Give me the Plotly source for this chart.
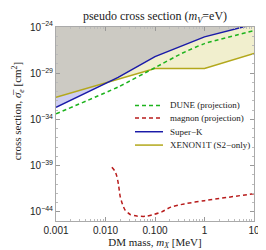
import plotly.graph_objects as go

# ---- data (DM mass in MeV, cross section in cm^2) ----
sk_mass = [0.001, 0.018, 0.1, 1.0, 10.0]
sk_sigma = [2.0e-33, 3.5e-30, 6.3e-28, 8.5e-26, 2.0e-24]

xe_mass = [0.001, 0.1, 1.0, 10.0]
xe_sigma = [2.5e-32, 3.2e-29, 3.2e-29, 1.4e-27]

dune_mass = [0.001, 0.018, 0.1, 0.35, 1.0, 10.0]
dune_sigma = [4.0e-34, 3.2e-31, 4.0e-29, 1.4e-27, 1.6e-26, 4.0e-25]

magnon_mass = [0.01346, 0.0157, 0.0170, 0.01837, 0.01977, 0.02213, 0.02495,
               0.0315, 0.0430, 0.0631, 0.0861, 0.137, 0.209, 0.389, 1.0, 10.0]
magnon_sigma = [6.5e-40, 2.2e-40, 6.6e-41, 7.8e-42, 4.7e-43, 6.0e-44, 1.5e-44,
                5.1e-45, 3.4e-45, 3.2e-45, 4.4e-45, 9.8e-45, 3.2e-44, 7.1e-44,
                1.6e-43, 9.1e-43]

x_ticks = [0.001, 0.01, 0.1, 1, 10]
x_ticktext = ["0.001", "0.010", "0.100", "1", "10"]
y_exps = [-44, -39, -34, -29, -24]

legend_names = ["DUNE (projection)", "magnon (projection)", "Super\u2212K", "XENON1T (S2\u2212only)"]
legend_colors = ["#1db31d", "#b81c1c", "#1a1aa8", "#b3a81c"]
legend_dash = ["dash", "dash", "solid", "solid"]

TOP = 1e-20
fig = go.Figure()

# exclusion fills
fig.add_trace(go.Scatter(x=sk_mass + [sk_mass[-1], sk_mass[0]],
                         y=sk_sigma + [TOP, TOP], fill="toself",
                         fillcolor="rgba(60,60,200,0.25)", line=dict(width=0),
                         mode="lines", showlegend=False, hoverinfo="skip"))
fig.add_trace(go.Scatter(x=xe_mass + [xe_mass[-1], xe_mass[0]],
                         y=xe_sigma + [TOP, TOP], fill="toself",
                         fillcolor="rgba(200,190,60,0.25)", line=dict(width=0),
                         mode="lines", showlegend=False, hoverinfo="skip"))

# curves
fig.add_trace(go.Scatter(x=xe_mass, y=xe_sigma, mode="lines",
                         line=dict(color=legend_colors[3], width=1.5), showlegend=False))
fig.add_trace(go.Scatter(x=sk_mass, y=sk_sigma, mode="lines",
                         line=dict(color=legend_colors[2], width=1.5), showlegend=False))
fig.add_trace(go.Scatter(x=dune_mass, y=dune_sigma, mode="lines",
                         line=dict(color=legend_colors[0], width=1.5, dash="4px,3px",
                                   shape="spline", smoothing=0.5), showlegend=False))
fig.add_trace(go.Scatter(x=magnon_mass, y=magnon_sigma, mode="lines",
                         line=dict(color=legend_colors[1], width=1.5, dash="4px,3px",
                                   shape="spline", smoothing=0.6), showlegend=False))

# manual legend
L, R, T, B = 48, 20, 19, 35
W, H = 266 - L - R, 250 - T - B
rows_px = [98.3, 111.0, 124.8, 138.3]
for name, col, dsh, py in zip(legend_names, legend_colors, legend_dash, rows_px):
    yp = (250 - B - py) / H
    fig.add_shape(type="line", xref="paper", yref="paper",
                  x0=(127 - L) / W, x1=(155 - L) / W, y0=yp, y1=yp,
                  line=dict(color=col, width=1.5, dash="4px,3px" if dsh == "dash" else "solid"))
    fig.add_annotation(xref="paper", yref="paper", x=(160 - L) / W, y=yp,
                       text=name, showarrow=False, xanchor="left", yanchor="middle",
                       font=dict(family="Liberation Serif", size=9, color="#222"))

# y title
fig.add_annotation(xref="paper", yref="paper", x=(10 - L) / W, y=(250 - B - 104) / H,
                   text="cross section, <i>\u03c3\u0305</i><sub><i>e</i></sub> [cm<sup>2</sup>]",
                   textangle=-90, showarrow=False, xanchor="center", yanchor="middle",
                   font=dict(family="Liberation Serif", size=11, color="#222"))

x_minor = [m * 10.0 ** e for e in range(-3, 1) for m in range(2, 10)]
y_minor = [10.0 ** e for e in range(-45, -23) if e not in y_exps]

fig.update_layout(
    width=266, height=250,
    margin=dict(l=L, r=R, t=T, b=B),
    paper_bgcolor="white", plot_bgcolor="white",
    title=dict(text="pseudo cross section (<i>m</i><sub><i>V</i></sub>=eV)",
               x=(L + W / 2) / 266, xanchor="center", y=1 - 8 / 250, yanchor="middle",
               font=dict(family="Liberation Serif", size=12, color="#222")),
    showlegend=False,
)
fig.update_xaxes(type="log", range=[-3, 1], tickvals=x_ticks, ticktext=x_ticktext,
                 ticks="inside", ticklen=4, tickcolor="#999", showgrid=False,
                 showline=True, linecolor="#aaa", linewidth=1, mirror="allticks",
                 tickfont=dict(family="Liberation Sans", size=10, color="#222"),
                 minor=dict(tickvals=x_minor, ticks="inside", ticklen=2, tickcolor="#bbb", showgrid=False),
                 title=dict(text="DM mass, <i>m</i><sub><i>X</i></sub> [MeV]", standoff=2,
                            font=dict(family="Liberation Serif", size=11, color="#222")),
                 zeroline=False)
fig.update_yaxes(type="log", range=[-45, -24], tickvals=[10.0 ** e for e in y_exps],
                 ticktext=["10<sup>\u2212%d</sup>" % (-e) for e in y_exps],
                 ticks="inside", ticklen=4, tickcolor="#999", showgrid=False,
                 showline=True, linecolor="#aaa", linewidth=1, mirror="allticks",
                 tickfont=dict(family="Liberation Sans", size=10, color="#222"),
                 minor=dict(tickvals=y_minor, ticks="inside", ticklen=2, tickcolor="#bbb", showgrid=False),
                 zeroline=False)

fig.write_html("out.html")
